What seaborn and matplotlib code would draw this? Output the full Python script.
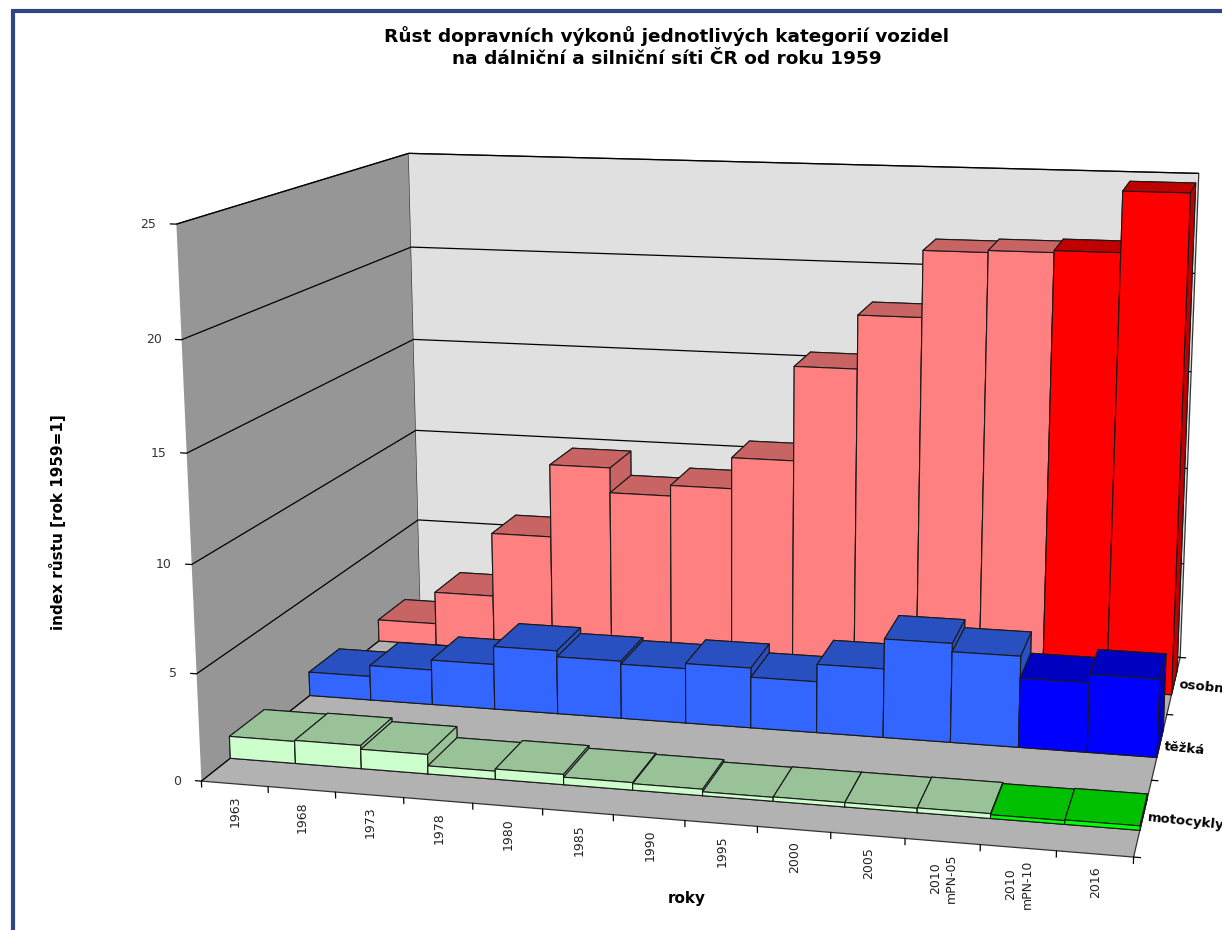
import numpy as np
import pandas as pd
import matplotlib
matplotlib.use("Agg")
import matplotlib.pyplot as plt
from matplotlib.patches import Rectangle
from mpl_toolkits.mplot3d import proj3d
import seaborn as sns

# Values
years = ['1963', '1968', '1973', '1978', '1980', '1985', '1990', '1995', '2000', '2005',
         '2010\nmPN-05', '2010\nmPN-10', '2016']
motocykly = [1.05, 1.1, 0.92, 0.38, 0.48, 0.35, 0.3, 0.18, 0.2, 0.2, 0.22, 0.17, 0.2]
tezka = [1.2, 1.75, 2.25, 3.15, 2.85, 2.7, 2.95, 2.5, 3.35, 4.8, 4.4, 3.35, 3.75]
osobni = [1.15, 2.85, 6.2, 10.0, 8.7, 9.25, 10.85, 15.65, 18.35, 21.65, 21.75, 21.85, 24.8]
row_labels = ['motocykly', 'těžká', 'osobní']
z_ticks = [0, 5, 10, 15, 20, 25]

sns.set_theme(style="white")
plt.rcParams['font.family'] = ['DejaVu Sans']

df = pd.DataFrame({'rok': years, 'motocykly': motocykly, 'těžká': tezka, 'osobní': osobni})

# front and top face colours, light and dark version of each series
colors = {
    'motocykly': [('#CCFFCC', '#99C299'), ('#00FF00', '#00C000')],
    'těžká': [('#3366FF', '#2850C0'), ('#0000FF', '#0000C0')],
    'osobní': [('#FF8080', '#C86464'), ('#FF0000', '#C00000')],
}

fig = plt.figure(figsize=(12.22, 9.30), dpi=100)
ax = fig.add_axes([58.5 / 1222, (930 - 1129) / 930, 1300 / 1222, 1300 / 930], projection='3d')
ax.patch.set_alpha(0)
ax.computed_zorder = False
ax.set_proj_type('persp', focal_length=0.3818)
ax.view_init(elev=12.6, azim=-76.9)
ax.set_box_aspect((1.62, 1.145, 0.98), zoom=0.8945)
ax.set_xlim(0, 13)
ax.set_ylim(0, 3)
ax.set_zlim(0, 25)

# walls
ax.xaxis.set_pane_color('#969696', alpha=1)
ax.yaxis.set_pane_color('#E0E0E0', alpha=1)
ax.zaxis.set_pane_color('#B2B2B2', alpha=1)
for axis in (ax.xaxis, ax.yaxis, ax.zaxis):
    axis.pane.set_edgecolor('#333333')
    axis.pane.set_linewidth(0.9)

ax.set_xticks(range(14))
ax.set_yticks(range(4))
ax.set_zticks(z_ticks)
ax.set_xticklabels([])
ax.set_yticklabels([])
ax.set_zticklabels([])
ax.grid(True)
for axis in (ax.xaxis, ax.yaxis):
    axis._axinfo['grid']['color'] = (0, 0, 0, 0)
ax.zaxis._axinfo['grid'].update(color='black', linewidth=0.9)
for axis in (ax.xaxis, ax.yaxis, ax.zaxis):
    axis._axinfo['tick'].update(inward_factor=0.0, outward_factor=0.0, linewidth={True: 0, False: 0})
    axis.line.set_color((0, 0, 0, 0))
    axis.set_tick_params(length=0, width=0)


# tick marks go the way the original has them
def tick_mark(xs, ys, zs):
    ax.plot(xs, ys, zs, color='black', linewidth=0.9, zorder=0)


for i in range(14):
    tick_mark([i, i], [0, 0], [0, -0.28])
for row in range(4):
    tick_mark([13, 13.09], [row, row], [0, 0])
for z in z_ticks:
    tick_mark([0, -0.09], [0, 0], [z, z])

# bars, back row first and left to right so nearer bars cover farther ones
order = 0
for row in [2, 1, 0]:
    name = row_labels[row]
    for i, value in enumerate(df[name]):
        front, top = colors[name][1 if i >= 11 else 0]
        order += 1
        ax.bar3d(i, row + 0.33, 0, 1, 0.42, value, shade=False,
                 color=[top, top, front, top, top, top],
                 edgecolor='#1A1A1A', linewidth=0.8, zorder=order)


# labels are placed from the projected axis position, in pixels off it
def label_at(x, y, z, text, offset, **kw):
    px, py, _ = proj3d.proj_transform(x, y, z, ax.get_proj())
    ax.annotate(text, xy=(px, py), xytext=offset, textcoords='offset pixels',
                annotation_clip=False, zorder=100, **kw)


for i, label in enumerate(years):
    label_at(i + 0.5, 0, 0, label, (1, -12), rotation=90, ha='center', va='top', fontsize=9,
             linespacing=1.35, color='#222222')
for row, label in enumerate(row_labels):
    label_at(13, row + 0.5, 0, label, (5, 0), rotation=-6, rotation_mode='anchor', ha='left',
             va='center', fontsize=9.5, fontweight='bold', color='black')
for z in z_ticks:
    label_at(0, 0, z, str(z), (-20, 0), ha='right', va='center', fontsize=9, color='#333333')

fig.text(667 / 1222, 1 - 47 / 930, 'Růst dopravních výkonů jednotlivých kategorií vozidel\nna dálniční a silniční síti ČR od roku 1959',
         ha='center', va='center', fontsize=13.3, fontweight='bold', linespacing=1.25, color='black')
fig.text(57 / 1222, 1 - 522 / 930, 'index růstu [rok 1959=1]', rotation=90, ha='center', va='center',
         fontsize=11, fontweight='bold', color='black')
fig.text(687 / 1222, 1 - 898 / 930, 'roky', ha='center', va='center', fontsize=11, fontweight='bold', color='black')

# dark blue frame, its right and bottom sides lie off the page
fig.patches.append(Rectangle((13 / 1222, -0.2), 1.3, 1.2 - 11 / 930, transform=fig.transFigure,
                             fill=False, edgecolor='#2F4682', linewidth=3))

plt.savefig('out.png', dpi=100)
